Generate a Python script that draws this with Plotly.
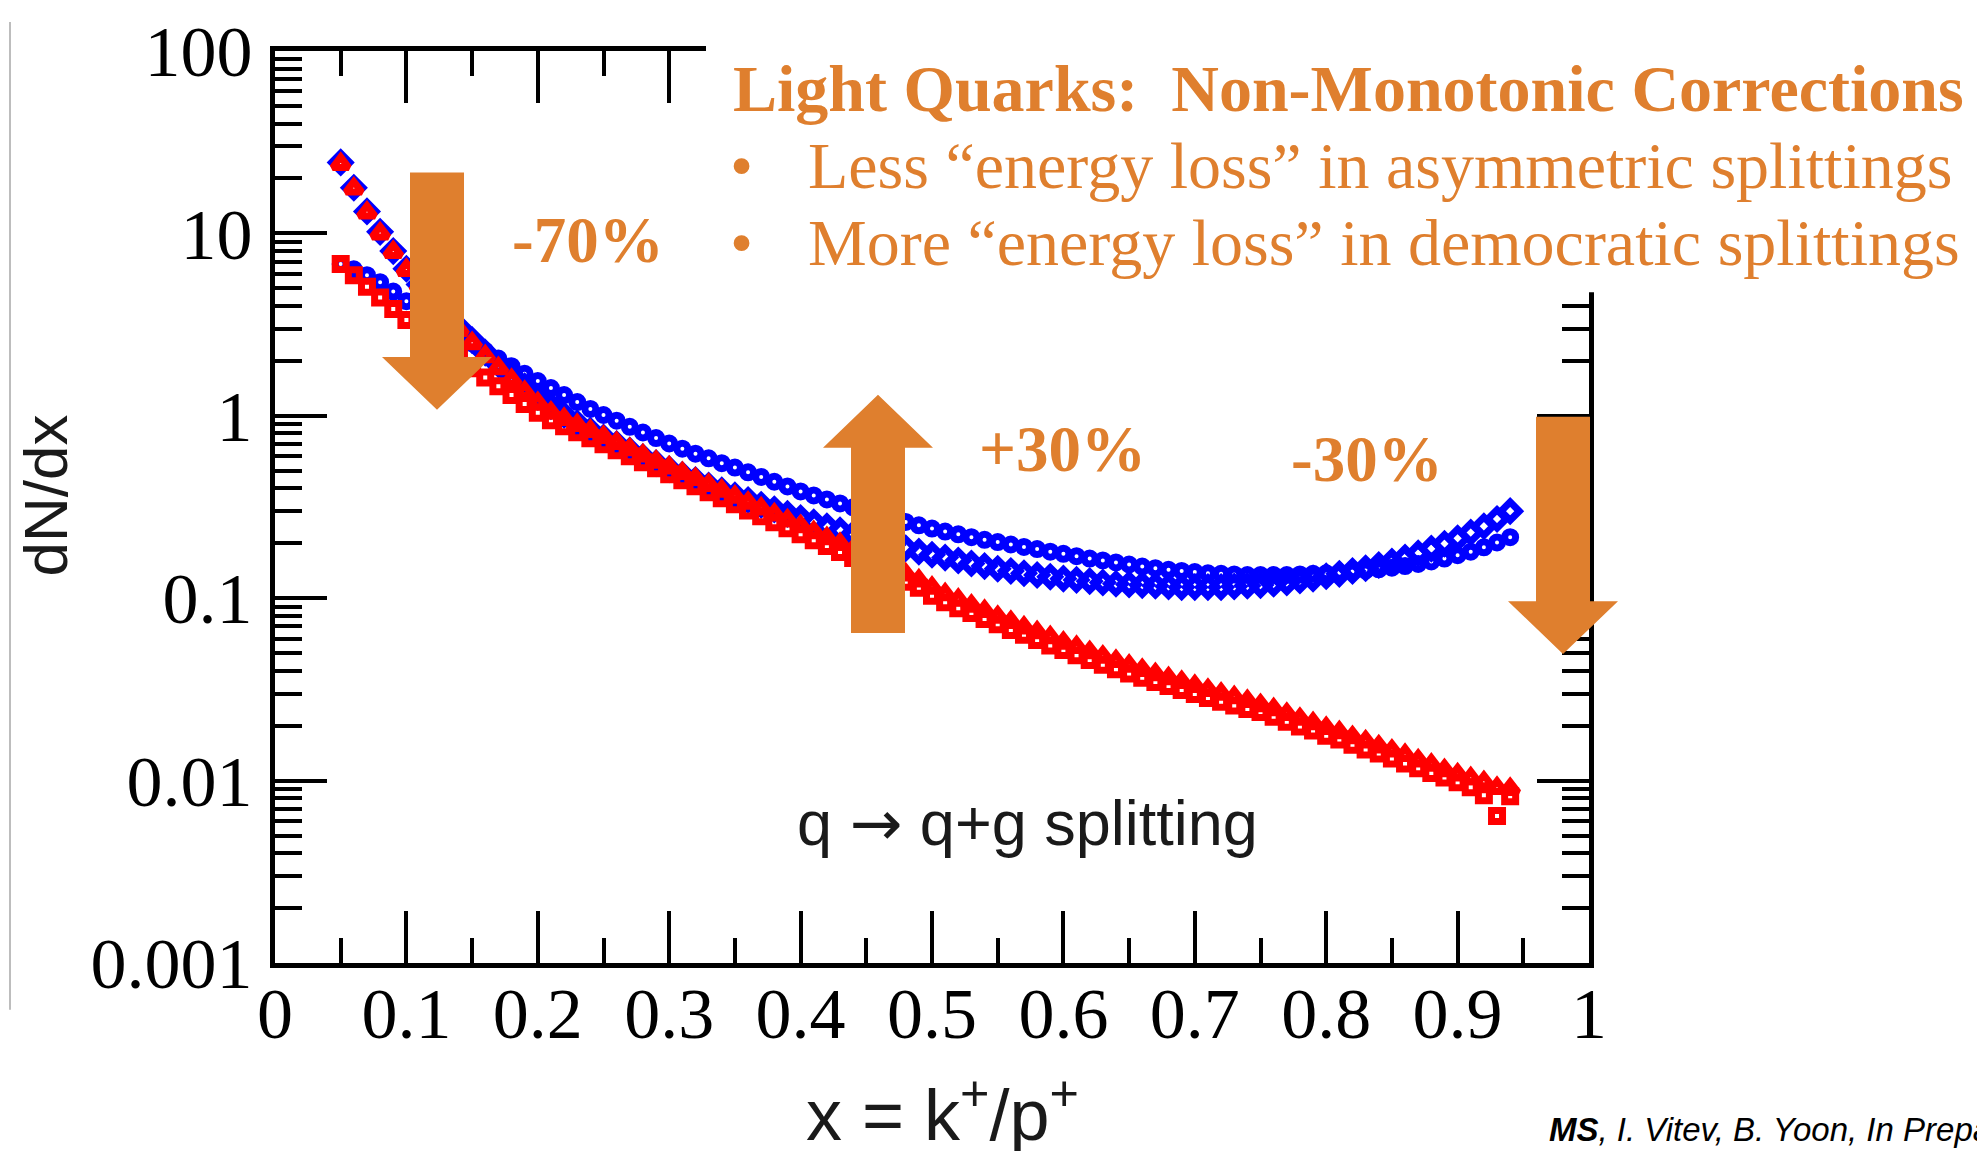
import plotly.graph_objects as go

# x grid of the computed splitting spectra
x = [round(0.05 + 0.01 * i, 2) for i in range(90)]

# dN/dx, blue: diamonds / circles ; red: triangles / squares
blue_diamond = [
    24.5, 17.8, 13.2, 10.2, 8.0,
    6.4, 5.25, 4.35, 3.6, 3.05, 2.6, 2.22, 1.92, 1.66, 1.45,
    1.27, 1.13, 1.01, 0.91, 0.83, 0.76, 0.70, 0.645, 0.595, 0.55,
    0.51, 0.475, 0.445, 0.415, 0.39, 0.366, 0.345, 0.325, 0.307, 0.29,
    0.275, 0.261, 0.248, 0.236, 0.225, 0.215, 0.205, 0.196, 0.188, 0.18,
    0.173, 0.167, 0.161, 0.155, 0.150, 0.145, 0.141, 0.137, 0.134, 0.131,
    0.128, 0.126, 0.124, 0.122, 0.120, 0.119, 0.118, 0.117, 0.116, 0.115,
    0.115, 0.115, 0.115, 0.116, 0.117, 0.118, 0.120, 0.122, 0.125, 0.128,
    0.132, 0.136, 0.141, 0.146, 0.152, 0.159, 0.167, 0.176, 0.187, 0.199,
    0.213, 0.229, 0.248, 0.272, 0.30,
]
blue_circle = [
    6.8, 6.35, 5.9, 5.4, 4.8,
    4.25, 3.8, 3.4, 3.05, 2.75, 2.5, 2.27, 2.06, 1.87, 1.70,
    1.55, 1.42, 1.30, 1.19, 1.09, 1.01, 0.94, 0.87, 0.81, 0.755,
    0.705, 0.66, 0.62, 0.585, 0.55, 0.52, 0.49, 0.462, 0.435, 0.41,
    0.385, 0.366, 0.348, 0.331, 0.315, 0.30, 0.287, 0.274, 0.262, 0.251,
    0.241, 0.232, 0.224, 0.216, 0.209, 0.203, 0.197, 0.191, 0.186, 0.18,
    0.175, 0.17, 0.165, 0.161, 0.157, 0.153, 0.149, 0.146, 0.143, 0.141,
    0.139, 0.137, 0.136, 0.135, 0.134, 0.134, 0.134, 0.134, 0.135, 0.136,
    0.137, 0.138, 0.14, 0.142, 0.144, 0.147, 0.15, 0.154, 0.159, 0.165,
    0.172, 0.18, 0.19, 0.202, 0.216,
]
red_triangle = [
    24.0, 17.6, 13.0, 10.0, 7.9,
    6.3, 5.1, 4.2, 3.5, 2.95, 2.5, 2.12, 1.82, 1.57, 1.35,
    1.17, 1.04, 0.96, 0.89, 0.825, 0.765, 0.71, 0.655, 0.605, 0.56,
    0.52, 0.485, 0.45, 0.418, 0.388, 0.36, 0.334, 0.31, 0.288, 0.267,
    0.248, 0.23, 0.213, 0.198, 0.184, 0.171, 0.158, 0.146, 0.135, 0.125,
    0.114, 0.105, 0.098, 0.091, 0.085, 0.079, 0.074, 0.069, 0.065, 0.061,
    0.057, 0.054, 0.0506, 0.0478, 0.0452, 0.0426, 0.0404, 0.0383, 0.0364, 0.0347,
    0.033, 0.0314, 0.0299, 0.0286, 0.0273, 0.0259, 0.0246, 0.0232, 0.0218, 0.0206,
    0.0194, 0.0184, 0.0173, 0.0164, 0.0154, 0.0146, 0.0138, 0.0129, 0.0122, 0.0114,
    0.0108, 0.0103, 0.0098, 0.0091, 0.0090,
]
red_square = [
    6.8, 5.9, 5.1, 4.45, 3.85,
    3.35, 2.95, 2.6, 2.3, 2.05, 1.82, 1.62, 1.45, 1.3, 1.16,
    1.04, 0.945, 0.876, 0.812, 0.753, 0.698, 0.647, 0.60, 0.556, 0.515,
    0.478, 0.443, 0.411, 0.381, 0.353, 0.327, 0.303, 0.281, 0.261, 0.242,
    0.224, 0.208, 0.193, 0.179, 0.166, 0.154, 0.143, 0.132, 0.123, 0.114,
    0.103, 0.095, 0.088, 0.083, 0.077, 0.072, 0.067, 0.063, 0.059, 0.055,
    0.052, 0.0487, 0.0458, 0.0432, 0.0408, 0.0386, 0.0366, 0.0347, 0.033, 0.0314,
    0.0298, 0.0284, 0.0271, 0.0258, 0.0247, 0.0238, 0.0224, 0.021, 0.0198, 0.0188,
    0.0176, 0.0168, 0.0157, 0.0148, 0.0141, 0.0132, 0.0124, 0.0117, 0.011, 0.0104,
    0.0098, 0.0092, 0.0083, 0.0064, 0.0082,
]

x_ticks = [0, 0.1, 0.2, 0.3, 0.4, 0.5, 0.6, 0.7, 0.8, 0.9, 1]
x_ticktext = ["0", "0.1", "0.2", "0.3", "0.4", "0.5", "0.6", "0.7", "0.8", "0.9", "1"]
x_minor = [0.05, 0.15, 0.25, 0.35, 0.45, 0.55, 0.65, 0.75, 0.85, 0.95]
y_ticks = [0.001, 0.01, 0.1, 1, 10, 100]
y_ticktext = ["0.001", "0.01", "0.1", "1", "10", "100"]
y_minor = [k * 10.0 ** e for e in range(-3, 2) for k in range(2, 10)]

ORANGE = "#DF7F2E"
W, H = 1977, 1151
L, R, T, B = 275, 1589, 48, 963  # plot area in page pixels


def px(v):
    return (v - L) / (R - L)


def py(v):
    return (B - v) / (B - T)


fig = go.Figure()

series = [
    (blue_circle, "circle-open", 11, "#0000FF"),
    (blue_diamond, "diamond-open", 14, "#0000FF"),
    (red_square, "square-open", 11, "#FF0000"),
    (red_triangle, "triangle-up-open", 14, "#FF0000"),
]
for ys, sym, size, col in series:
    fig.add_trace(go.Scatter(
        x=x, y=ys, mode="markers",
        marker=dict(symbol=sym, size=size, color=col,
                    line=dict(width=7, color=col)),
        hoverinfo="skip",
    ))

tickfont = dict(family="Liberation Serif", size=72, color="black")

fig.update_xaxes(
    range=[0, 1], showgrid=False, zeroline=False,
    showline=True, linewidth=5, linecolor="black", mirror="allticks",
    ticks="inside", ticklen=52, tickwidth=4, tickcolor="black",
    tickmode="array", tickvals=x_ticks, ticktext=x_ticktext,
    tickfont=tickfont, ticklabelstandoff=-16,
    minor=dict(tickmode="array", tickvals=x_minor, ticks="inside",
               ticklen=25, tickwidth=4, tickcolor="black", showgrid=False),
)
fig.update_yaxes(
    type="log", range=[-3, 2], showgrid=False, zeroline=False,
    showline=True, linewidth=5, linecolor="black", mirror="allticks",
    ticks="inside", ticklen=52, tickwidth=4, tickcolor="black",
    tickmode="array", tickvals=y_ticks, ticktext=y_ticktext,
    tickfont=tickfont, ticklabelstandoff=3,
    minor=dict(tickmode="array", tickvals=y_minor, ticks="inside",
               ticklen=27, tickwidth=4, tickcolor="black", showgrid=False),
)


def block_arrow(cx, tail, tip, shaft=27, head=55, head_len=53):
    d = 1 if tip > tail else -1
    base = tip - d * head_len
    pts = [(cx - shaft, tail), (cx + shaft, tail), (cx + shaft, base),
           (cx + head, base), (cx, tip), (cx - head, base), (cx - shaft, base)]
    return "M " + " L ".join(f"{px(a):.5f},{py(b):.5f}" for a, b in pts) + " Z"


shapes = [
    # white panel behind the headline text
    dict(type="rect", xref="paper", yref="paper", x0=px(706), x1=px(W),
         y0=py(290), y1=py(0), fillcolor="white", line=dict(width=0), layer="above"),
    # thin frame line at the far left
    dict(type="line", xref="paper", yref="paper", x0=px(10), x1=px(10),
         y0=py(19), y1=py(1010), line=dict(color="#BDBDBD", width=2), layer="above"),
]
for cx, tail, tip in [(437, 170, 408), (878, 632, 393), (1563, 415, 653)]:
    shapes.append(dict(type="path", xref="paper", yref="paper",
                       path=block_arrow(cx, tail, tip), fillcolor=ORANGE,
                       line=dict(width=0), layer="above"))

ann = []


def text(t, xpx, ypx, font, xanchor="center", **kw):
    ann.append(dict(text=t, x=px(xpx), y=py(ypx), xref="paper", yref="paper",
                    xanchor=xanchor, yanchor="middle", showarrow=False,
                    font=font, **kw))


serif_b = dict(family="Liberation Serif", size=66, color=ORANGE)
text("<b>Light Quarks:  Non-Monotonic Corrections</b>", 731, 86, serif_b, "left")
text("•", 741, 163, serif_b)
text("Less “energy loss” in asymmetric splittings", 806, 163, serif_b, "left")
text("•", 741, 240, serif_b)
text("More “energy loss” in democratic splittings", 806, 240, serif_b, "left")

pct = dict(family="Liberation Serif", size=65, color=ORANGE)
text("<b>-70%</b>", 588, 238, pct)
text("<b>+30%</b>", 1062, 447, pct)
text("<b>-30%</b>", 1367, 457, pct)

sans = dict(family="Liberation Sans", color="#1a1a1a")
text('q <span style="font-family:DejaVu Sans">→</span> q+g splitting',
     1027, 823, dict(sans, size=63))
text("dN/dx", 46, 494, dict(sans, size=62), textangle=-90)
text("x = k<sup>+</sup>/p<sup>+</sup>", 942, 1110, dict(sans, size=72))
text("<b><i>MS</i></b><i>, I. Vitev, B. Yoon, In Preparation</i>", 1547, 1130,
     dict(family="Liberation Sans", size=33, color="black"), "left")

fig.update_layout(
    width=W, height=H,
    margin=dict(l=L, r=W - R, t=T, b=H - B, pad=0),
    plot_bgcolor="white", paper_bgcolor="white",
    showlegend=False, shapes=shapes, annotations=ann,
)

fig.write_html("out.html")
